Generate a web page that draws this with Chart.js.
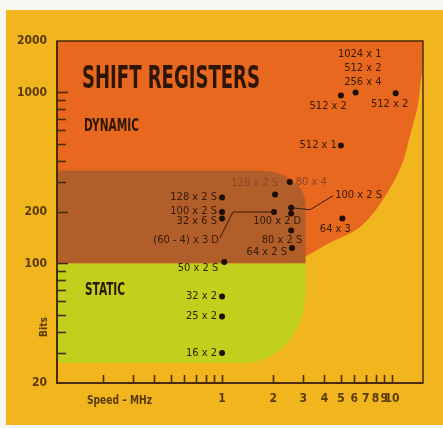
<!DOCTYPE html>
<html>
<head>
<meta charset="utf-8">
<script src="https://cdn.jsdelivr.net/npm/chart.js@4.4.0/dist/chart.umd.min.js"></script>
<style>
  html, body { margin: 0; padding: 0; background: #f7f6f1; }
  #wrap { position: absolute; left: 0; top: 0; width: 443px; height: 428px; }
</style>
</head>
<body>
<div id="wrap"><canvas id="shiftChart" width="443" height="428"></canvas></div>
<script>
// shift register devices: speed (MHz) against size (bits)
var speedMHz = [5, 6.1, 10.5, 5, 2.5, 2.05, 2.02, 2.55, 2.55, 2.55, 2.58, 5.1, 1, 1, 1, 1.03, 1, 1, 1];
var bits     = [960, 1000, 990, 490, 300, 253, 200, 212, 196, 156, 123, 183, 243, 200, 183, 102, 64, 49, 30];
var deviceLabels = [
  ['512 x 2'], ['1024 x 1', '512 x 2', '256 x 4'], ['512 x 2'], ['512 x 1'], ['80 x 4'],
  ['128 x 2 S'], ['(60 - 4) x 3 D'], ['100 x 2 S'], ['100 x 2 D'], ['80 x 2 S'], ['64 x 2 S'],
  ['64 x 3'], ['128 x 2 S'], ['100 x 2 S'], ['32 x 6 S'], ['50 x 2 S'], ['32 x 2'], ['25 x 2'], ['16 x 2']
];

// shaded regions (MHz / bits)
var dynamicEdgeMHz  = [2.35, 3.0, 4.3, 6.5, 8.85, 11.3, 12.9, 14.2, 14.8, 15.6];
var dynamicEdgeBits = [100, 108, 132, 164, 237, 370, 585, 854, 1197, 1600];
var overlapMaxMHz = 3.1;
var overlapBits = [100, 350];
var staticMaxMHz = 3.1;
var staticBits = [26.2, 100];

// axes
var xRange = [0.107, 15.2];
var yRange = [20, 2000];
var xTickLabels = [1, 2, 3, 4, 5, 6, 7, 8, 9, 10];
var xTickMarks = [0.2, 0.3, 0.4, 0.5, 0.6, 0.7, 0.8, 0.9, 1, 2, 3, 4, 5, 6, 7, 8, 9, 10];
var yTickLabels = [20, 100, 200, 1000, 2000];
var yTickMarks = [30, 40, 50, 60, 70, 80, 90, 100, 200, 300, 400, 500, 600, 700, 800, 900, 1000];

// label placement relative to each dot: [dx, dy, align, line gap]
var labelLayout = [
  [6, 11, 'right'], [26, -38, 'right', 14], [-6, 11, 'center'], [-4, 0, 'right'], [6, 0, 'left'],
  [3, -11, 'right'], [-55, 28, 'right'], [44, -13, 'left'], [-14, 8, 'center'], [11, 10, 'right'],
  [-5, 4, 'right'], [-7, 11, 'center'], [-5, 0, 'right'], [-5, -1, 'right'], [-5, 3, 'right'],
  [-6, 6, 'right'], [-5, 0, 'right'], [-5, 0, 'right'], [-5, 0, 'right']
];
var leaders = { 6: [[-41, 0], [-54, 26]], 7: [[19, 2], [42, -12]] };
var fadedLabels = [4, 5];

var COND = "'DejaVu Sans Condensed', 'Liberation Sans Narrow', 'Arial Narrow', sans-serif";
var INK = '#341a08';
var AXIS_INK = '#5a3a0c';

function smoothThrough(c, pts) {
  for (var i = 0; i < pts.length - 1; i++) {
    var p0 = pts[i - 1] || pts[i], p1 = pts[i], p2 = pts[i + 1], p3 = pts[i + 2] || p2;
    c.bezierCurveTo(p1.x + (p2.x - p0.x) / 6, p1.y + (p2.y - p0.y) / 6,
                    p2.x - (p3.x - p1.x) / 6, p2.y - (p3.y - p1.y) / 6, p2.x, p2.y);
  }
}

function squeezeText(c, txt, x, y, font, width) {
  c.save();
  c.font = font;
  var w = c.measureText(txt).width;
  c.translate(x, y);
  c.scale(width / w, 1);
  c.textAlign = 'left';
  c.fillText(txt, 0, 0);
  c.restore();
}

var regionsPlugin = {
  id: 'regions',
  beforeDraw: function (chart) {
    var c = chart.ctx;
    c.save();
    c.fillStyle = '#f7f6f1';
    c.fillRect(0, 0, chart.width, chart.height);
    c.fillStyle = '#f1b51e';
    c.fillRect(6, 10, chart.width - 6, 415);
    c.restore();
  },
  beforeDatasetsDraw: function (chart) {
    var c = chart.ctx, a = chart.chartArea;
    var X = chart.scales.x, Y = chart.scales.y;
    c.save();
    c.beginPath();
    c.rect(a.left, a.top, a.right - a.left, a.bottom - a.top);
    c.clip();

    // dynamic (orange)
    var pts = dynamicEdgeMHz.map(function (m, i) {
      return { x: X.getPixelForValue(m), y: Y.getPixelForValue(dynamicEdgeBits[i]) };
    });
    c.beginPath();
    c.moveTo(a.left, pts[0].y);
    c.lineTo(pts[0].x, pts[0].y);
    smoothThrough(c, pts);
    c.lineTo(a.right + 20, a.top);
    c.lineTo(a.left, a.top);
    c.closePath();
    c.fillStyle = '#e8681f';
    c.fill();

    // overlap (brown), rounded top-right
    var r = X.getPixelForValue(overlapMaxMHz);
    var t = Y.getPixelForValue(overlapBits[1]);
    var b = Y.getPixelForValue(overlapBits[0]);
    var rx = 45, ry = 34;
    c.beginPath();
    c.moveTo(a.left, b);
    c.lineTo(a.left, t);
    c.lineTo(r - rx, t);
    c.bezierCurveTo(r - rx * 0.45, t, r, t + ry * 0.45, r, t + ry);
    c.lineTo(r, b);
    c.closePath();
    c.fillStyle = '#b25e2a';
    c.fill();

    // static (green), rounded bottom-right
    r = X.getPixelForValue(staticMaxMHz);
    t = Y.getPixelForValue(staticBits[1]);
    b = Y.getPixelForValue(staticBits[0]);
    rx = 62; ry = 70;
    c.beginPath();
    c.moveTo(a.left, t);
    c.lineTo(r, t);
    c.lineTo(r, b - ry);
    c.bezierCurveTo(r, b - ry * 0.45, r - rx * 0.45, b, r - rx, b);
    c.lineTo(a.left, b);
    c.closePath();
    c.fillStyle = '#c1cf1d';
    c.fill();
    c.restore();
  },
  afterDatasetsDraw: function (chart) {
    var c = chart.ctx, a = chart.chartArea;
    var X = chart.scales.x, Y = chart.scales.y;
    c.save();

    // frame
    c.strokeStyle = '#4a2c0c';
    c.lineWidth = 1.5;
    c.strokeRect(a.left, a.top, a.right - a.left, a.bottom - a.top);
    c.lineWidth = 2;
    c.beginPath();
    c.moveTo(a.left, a.top); c.lineTo(a.left, a.bottom); c.lineTo(a.right, a.bottom);
    c.stroke();

    // inner tick marks
    c.lineWidth = 1.6;
    yTickMarks.forEach(function (v) {
      var py = Math.round(Y.getPixelForValue(v)) + 0.5;
      var len = (v === 100 || v === 1000 || v === 200) ? 11 : 9;
      c.beginPath(); c.moveTo(a.left, py); c.lineTo(a.left + len, py); c.stroke();
    });
    xTickMarks.forEach(function (v) {
      var px = Math.round(X.getPixelForValue(v)) + 0.5;
      c.beginPath(); c.moveTo(px, a.bottom); c.lineTo(px, a.bottom - 8); c.stroke();
    });

    // device labels
    c.textBaseline = 'middle';
    c.font = '11px ' + COND;
    speedMHz.forEach(function (m, i) {
      var px = X.getPixelForValue(m), py = Y.getPixelForValue(bits[i]);
      var lay = labelLayout[i];
      if (leaders[i]) {
        c.strokeStyle = INK; c.lineWidth = 1;
        c.beginPath(); c.moveTo(px, py);
        leaders[i].forEach(function (p) { c.lineTo(px + p[0], py + p[1]); });
        c.stroke();
      }
      c.fillStyle = fadedLabels.indexOf(i) >= 0 ? '#8c4628' : INK;
      c.textAlign = lay[2];
      deviceLabels[i].forEach(function (txt, k) {
        c.fillText(txt, px + lay[0], py + lay[1] + k * (lay[3] || 0));
      });
    });

    // region titles
    c.fillStyle = '#2e1606';
    c.textBaseline = 'alphabetic';
    squeezeText(c, 'SHIFT REGISTERS', 82, 88, 'bold 32px ' + COND, 178);
    squeezeText(c, 'DYNAMIC', 84, 131, 'bold 17px ' + COND, 55);
    squeezeText(c, 'STATIC', 85, 295, 'bold 17px ' + COND, 40);

    // axis titles
    c.fillStyle = AXIS_INK;
    squeezeText(c, 'Speed \u2013 MHz', 87, 404, 'bold 12px ' + COND, 65);
    c.save();
    c.translate(47, 337);
    c.rotate(-Math.PI / 2);
    squeezeText(c, 'Bits', 0, 0, 'bold 10px ' + COND, 20);
    c.restore();
    c.restore();
  }
};

var ctx = document.getElementById('shiftChart').getContext('2d');
var shiftChart = new Chart(ctx, {
  type: 'scatter',
  data: {
    datasets: [{
      data: speedMHz.map(function (m, i) { return { x: m, y: bits[i] }; }),
      pointRadius: 3,
      pointBackgroundColor: '#1c0d05',
      pointBorderWidth: 0
    }]
  },
  options: {
    responsive: false,
    animation: false,
    layout: { padding: { top: 41, right: 20, left: 0, bottom: 0 } },
    plugins: { legend: { display: false }, tooltip: { enabled: false } },
    scales: {
      x: {
        type: 'logarithmic',
        min: xRange[0], max: xRange[1],
        grid: { display: false, drawTicks: false },
        border: { display: false },
        afterBuildTicks: function (s) { s.ticks = xTickLabels.map(function (v) { return { value: v }; }); },
        afterFit: function (s) { s.height = 45; },
        ticks: {
          autoSkip: false, maxRotation: 0, padding: 9,
          color: AXIS_INK,
          font: { family: COND, size: 12, weight: 'bold' },
          callback: function (v) { return String(v); }
        }
      },
      y: {
        type: 'logarithmic',
        min: yRange[0], max: yRange[1],
        grid: { display: false, drawTicks: false },
        border: { display: false },
        afterBuildTicks: function (s) { s.ticks = yTickLabels.map(function (v) { return { value: v }; }); },
        afterFit: function (s) { s.width = 57; },
        ticks: {
          autoSkip: false, padding: 10,
          color: AXIS_INK,
          font: { family: COND, size: 12, weight: 'bold' },
          callback: function (v) { return String(v); }
        }
      }
    }
  },
  plugins: [regionsPlugin]
});
</script>
</body>
</html>
